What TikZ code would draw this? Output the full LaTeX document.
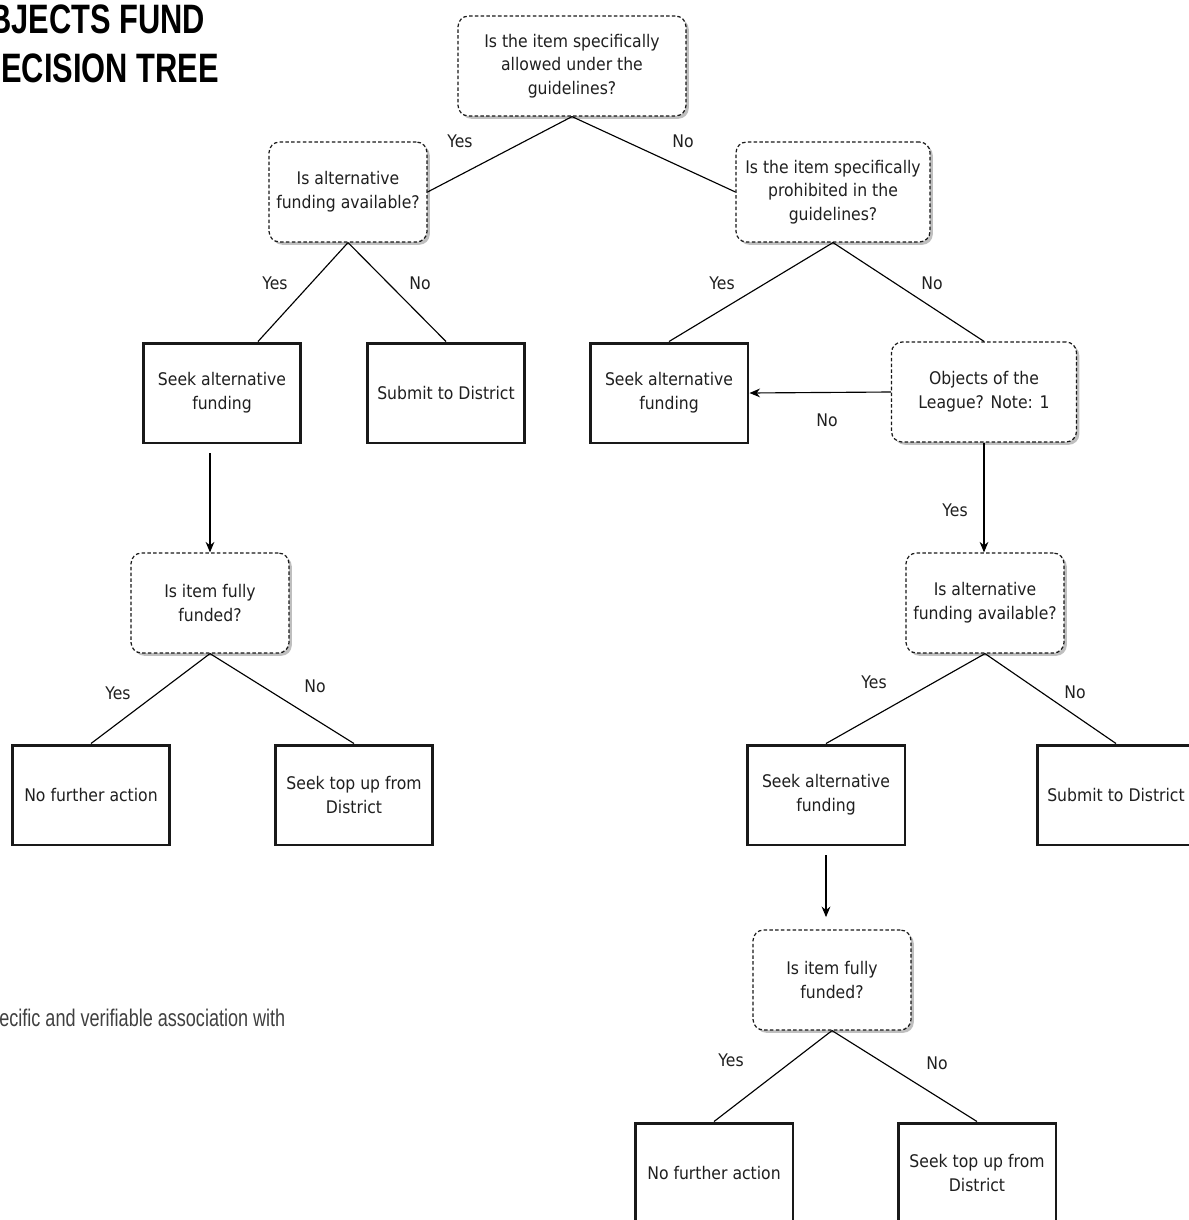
\documentclass[tikz,border=0pt]{standalone}
\usepackage{fontspec}
\setmainfont{DejaVu Sans}[FakeStretch=0.9]
\newfontfamily\headfont{Liberation Sans}[FakeStretch=0.75]
\usetikzlibrary{arrows.meta,positioning,shadows,calc}

\begin{document}
\begin{tikzpicture}[
  x=0.02cm, y=-0.02cm,
  every node/.style={font=\fontsize{9.9}{13.5}\selectfont, text=black!88},
  question/.style={rectangle, draw=black!90, line width=0.7pt,
                   dash pattern=on 2pt off 1.3pt,
                   rounded corners=6pt, fill=white, minimum width=3.16cm,
                   minimum height=2cm, align=center, inner sep=2pt,
                   drop shadow={shadow xshift=1.6pt, shadow yshift=-1.6pt,
                                opacity=0.5, fill=black!50}},
  action/.style={rectangle, draw=black!90, line width=1.7pt, fill=white,
                 minimum width=3.16cm, minimum height=2cm, align=center},
  link/.style={draw=black, line width=0.65pt},
  arrow/.style={link, -{Stealth[length=6pt,width=5pt]}}
]
  \useasboundingbox (0,0) rectangle (1189,1220);
  \clip (0,0) rectangle (1189,1220);

  % title and note
  \node[anchor=base west, inner sep=0pt, text=black,
        font=\headfont\bfseries\fontsize{23.4}{24}\selectfont] (titleA) at (-11,34) {BJECTS FUND};
  \node[anchor=base west, inner sep=0pt, text=black,
        font=\headfont\bfseries\fontsize{23.4}{24}\selectfont] (titleB) at (1,83) {ECISION TREE};
  \node[anchor=base west, inner sep=0pt, text=black!75,
        font=\headfont\fontsize{13.7}{16}\selectfont] (note) at (-1,1026) {ecific and verifiable association with};

  % questions
  \node[question, minimum width=4.56cm] (allowed) at (572,66) {Is the item specifically\\allowed under the\\guidelines?};
  \node[question] (altL) at (348,192) {Is alternative\\funding available?};
  \node[question, minimum width=3.88cm] (prohib) at (833,192) {Is the item specifically\\prohibited in the\\guidelines?};
  \node[question, minimum width=3.7cm] (league) at (984,392) {Objects of the\\League? Note: 1};
  \node[question] (fundedL) at (210,603) {Is item fully\\funded?};
  \node[question] (altR) at (985,603) {Is alternative\\funding available?};
  \node[question] (fundedR) at (832,980) {Is item fully\\funded?};

  % outcomes
  \node[action] (seekL) at (222,393) {Seek alternative\\funding};
  \node[action] (submitL) at (446,393) {Submit to District};
  \node[action] (seekM) at (669,393) {Seek alternative\\funding};
  \node[action] (noneL) at (91,795) {No further action};
  \node[action] (topupL) at (354,795) {Seek top up from\\District};
  \node[action] (seekR) at (826,795) {Seek alternative\\funding};
  \node[action] (submitR) at (1116,795) {Submit to District};
  \node[action] (noneR) at (714,1173) {No further action};
  \node[action] (topupR) at (977,1173) {Seek top up from\\District};

  % answers
  \node (yesA) at (460,141) {Yes};
  \node (noA) at (683,141) {No};
  \node (yesB) at (275,283) {Yes};
  \node (noB) at (420,283) {No};
  \node (yesC) at (722,283) {Yes};
  \node (noC) at (932,283) {No};
  \node (noD) at (827,420) {No};
  \node (yesD) at (955,510) {Yes};
  \node (yesE) at (118,693) {Yes};
  \node (noE) at (315,686) {No};
  \node (yesF) at (874,682) {Yes};
  \node (noF) at (1075,692) {No};
  \node (yesG) at (731,1060) {Yes};
  \node (noG) at (937,1063) {No};

  \draw[link] (allowed.south) -- (altL.east);
  \draw[link] (allowed.south) -- (prohib.west);
  \draw[link] (altL.south) -- ([xshift=0.72cm]seekL.north);
  \draw[link] (altL.south) -- (submitL.north);
  \draw[link] (prohib.south) -- (seekM.north);
  \draw[link] (prohib.south) -- (league.north);
  \draw[arrow] (league.west) -- (seekM.east);
  \draw[arrow] (league.south) -- (league.south |- altR.north);
  \draw[arrow, shorten <=5pt] (seekL.south -| fundedL.north) -- (fundedL.north);
  \draw[link] (fundedL.south) -- (noneL.north);
  \draw[link] (fundedL.south) -- (topupL.north);
  \draw[link] (altR.south) -- (seekR.north);
  \draw[link] (altR.south) -- (submitR.north);
  \draw[arrow, shorten <=5pt, shorten >=7pt] (seekR.south) -- (seekR.south |- fundedR.north);
  \draw[link] (fundedR.south) -- (noneR.north);
  \draw[link] (fundedR.south) -- (topupR.north);
\end{tikzpicture}
\end{document}
